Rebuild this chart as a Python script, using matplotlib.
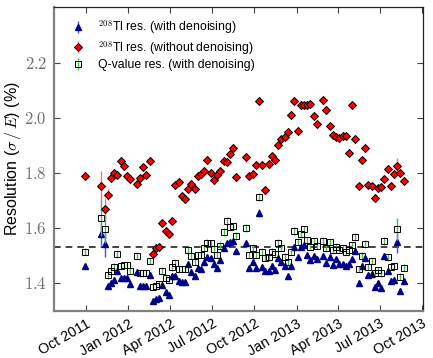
import matplotlib
matplotlib.use("Agg")
import matplotlib.pyplot as plt
import matplotlib.dates as mdates
from matplotlib.ticker import FuncFormatter
import numpy as np

plt.rcParams["font.family"] = ["Liberation Sans", "DejaVu Sans"]
plt.rcParams["mathtext.fontset"] = "cm"

# Weekly calibration epochs
dates = [
    "2011-09-29", "2011-11-03", "2011-11-10", "2011-11-17", "2011-11-24",
    "2011-12-01", "2011-12-08", "2011-12-15", "2011-12-22", "2011-12-29",
    "2012-01-05", "2012-01-19", "2012-01-26", "2012-02-02", "2012-02-09",
    "2012-02-16", "2012-02-23", "2012-03-01", "2012-03-08", "2012-03-15",
    "2012-03-22", "2012-03-29", "2012-04-05", "2012-04-12", "2012-04-19",
    "2012-04-26", "2012-05-03", "2012-05-10", "2012-05-17", "2012-05-24",
    "2012-05-31", "2012-06-07", "2012-06-14", "2012-06-21", "2012-06-28",
    "2012-07-05", "2012-07-12", "2012-07-19", "2012-07-26", "2012-08-02",
    "2012-08-09", "2012-08-16", "2012-08-23", "2012-09-13", "2012-09-20",
    "2012-09-27", "2012-10-04", "2012-10-11", "2012-10-18", "2012-10-25",
    "2012-11-01", "2012-11-08", "2012-11-15", "2012-11-22", "2012-11-29",
    "2012-12-06", "2012-12-13", "2012-12-20", "2012-12-27", "2013-01-03",
    "2013-01-10", "2013-01-17", "2013-01-24", "2013-01-31", "2013-02-07",
    "2013-02-14", "2013-02-28", "2013-03-07", "2013-03-14", "2013-03-21",
    "2013-03-28", "2013-04-04", "2013-04-11", "2013-04-18", "2013-04-25",
    "2013-05-02", "2013-05-09", "2013-05-16", "2013-05-23", "2013-05-30",
    "2013-06-06", "2013-06-13", "2013-06-20", "2013-06-27", "2013-07-04",
    "2013-07-11", "2013-07-18", "2013-07-25", "2013-08-01", "2013-08-08",
    "2013-08-15", "2013-08-22",
]

# 208Tl peak resolution without denoising (%)
tl_raw = [
    1.790, 1.753, 1.670, 1.720, 1.783, 1.801, 1.794, 1.844, 1.824, 1.790,
    1.777, 1.760, 1.783, 1.822, 1.793, 1.845, 1.505, 1.528, 1.532, 1.617,
    1.588, 1.578, 1.625, 1.756, 1.767, 1.715, 1.704, 1.742, 1.760, 1.742,
    1.787, 1.796, 1.808, 1.847, 1.799, 1.773, 1.794, 1.808, 1.845, 1.840,
    1.869, 1.892, 1.784, 1.857, 1.790, 1.795, 1.830, 2.061, 1.827, 1.736,
    1.831, 1.860, 1.847, 1.902, 1.923, 1.931, 1.948, 2.009, 2.063, 1.952,
    2.046, 2.046, 2.046, 2.051, 2.008, 1.977, 2.066, 2.028, 1.970, 1.937,
    1.932, 1.925, 1.935, 1.933, 1.873, 2.045, 1.923, 1.753, 1.846, 1.891,
    1.756, 1.753, 1.710, 1.744, 1.748, 1.778, 1.815, 1.752, 1.796, 1.825,
    1.800, 1.772,
]
tl_raw_err = [
    0.012, 0.055, 0.040, 0.020, 0.012, 0.012, 0.012, 0.015, 0.012, 0.012,
    0.012, 0.012, 0.012, 0.012, 0.012, 0.014, 0.012, 0.012, 0.012, 0.012,
    0.012, 0.012, 0.012, 0.012, 0.012, 0.012, 0.012, 0.012, 0.012, 0.012,
    0.012, 0.012, 0.012, 0.014, 0.012, 0.012, 0.012, 0.012, 0.012, 0.012,
    0.012, 0.012, 0.012, 0.016, 0.012, 0.012, 0.012, 0.016, 0.012, 0.012,
    0.012, 0.012, 0.012, 0.012, 0.012, 0.012, 0.012, 0.014, 0.014, 0.012,
    0.014, 0.014, 0.014, 0.014, 0.014, 0.012, 0.014, 0.014, 0.012, 0.012,
    0.012, 0.012, 0.012, 0.012, 0.012, 0.014, 0.014, 0.012, 0.012, 0.012,
    0.012, 0.012, 0.012, 0.012, 0.012, 0.012, 0.014, 0.012, 0.014, 0.030,
    0.012, 0.012,
]

# 208Tl peak resolution with denoising (%)
tl_dn = [
    1.462, 1.577, 1.541, 1.389, 1.399, 1.411, 1.445, 1.417, 1.419, 1.419,
    1.395, 1.441, 1.389, 1.389, 1.389, 1.429, 1.335, 1.341, 1.347, 1.392,
    1.368, 1.356, 1.427, 1.427, 1.408, 1.403, 1.403, 1.469, 1.441, 1.425,
    1.453, 1.451, 1.475, 1.493, 1.490, 1.469, 1.453, 1.484, 1.528, 1.544,
    1.548, 1.553, 1.516, 1.544, 1.453, 1.477, 1.453, 1.653, 1.459, 1.444,
    1.444, 1.462, 1.447, 1.491, 1.475, 1.463, 1.425, 1.462, 1.532, 1.496,
    1.532, 1.538, 1.500, 1.484, 1.499, 1.487, 1.498, 1.472, 1.496, 1.465,
    1.486, 1.468, 1.468, 1.462, 1.468, 1.487, 1.516, 1.401, 1.462, 1.490,
    1.429, 1.433, 1.387, 1.401, 1.383, 1.499, 1.445, 1.408, 1.411, 1.547,
    1.371, 1.407,
]
tl_dn_err = [
    0.009, 0.040, 0.045, 0.010, 0.009, 0.009, 0.009, 0.010, 0.009, 0.009,
    0.009, 0.009, 0.009, 0.009, 0.009, 0.009, 0.009, 0.009, 0.009, 0.009,
    0.009, 0.009, 0.009, 0.009, 0.009, 0.009, 0.009, 0.009, 0.009, 0.009,
    0.009, 0.009, 0.009, 0.009, 0.009, 0.009, 0.009, 0.009, 0.009, 0.010,
    0.009, 0.009, 0.009, 0.009, 0.009, 0.009, 0.009, 0.015, 0.009, 0.009,
    0.009, 0.009, 0.009, 0.009, 0.009, 0.009, 0.009, 0.009, 0.010, 0.009,
    0.009, 0.009, 0.009, 0.009, 0.009, 0.009, 0.009, 0.009, 0.009, 0.009,
    0.009, 0.009, 0.009, 0.009, 0.009, 0.009, 0.010, 0.009, 0.009, 0.009,
    0.009, 0.009, 0.009, 0.009, 0.009, 0.009, 0.009, 0.009, 0.009, 0.040,
    0.009, 0.009,
]

# Q-value resolution with denoising (%)
qval_dn = [
    1.514, 1.635, 1.596, 1.429, 1.445, 1.459, 1.504, 1.462, 1.465, 1.465,
    1.444, 1.499, 1.435, 1.435, 1.435, 1.480, 1.387, 1.389, 1.395, 1.445,
    1.419, 1.411, 1.457, 1.473, 1.450, 1.451, 1.451, 1.520, 1.499, 1.477,
    1.502, 1.502, 1.528, 1.546, 1.544, 1.524, 1.502, 1.536, 1.584, 1.625,
    1.603, 1.607, 1.571, 1.599, 1.502, 1.528, 1.502, 1.712, 1.514, 1.490,
    1.493, 1.514, 1.504, 1.544, 1.528, 1.496, 1.475, 1.514, 1.589, 1.550,
    1.578, 1.595, 1.555, 1.532, 1.553, 1.535, 1.554, 1.526, 1.548, 1.520,
    1.532, 1.520, 1.526, 1.514, 1.520, 1.538, 1.568, 1.450, 1.499, 1.541,
    1.459, 1.480, 1.435, 1.447, 1.435, 1.553, 1.493, 1.459, 1.462, 1.596,
    1.423, 1.456,
]
qval_dn_err = [
    0.012, 0.065, 0.050, 0.014, 0.012, 0.012, 0.014, 0.012, 0.012, 0.012,
    0.012, 0.012, 0.012, 0.012, 0.012, 0.012, 0.012, 0.012, 0.012, 0.012,
    0.012, 0.012, 0.012, 0.014, 0.012, 0.012, 0.012, 0.014, 0.012, 0.012,
    0.012, 0.012, 0.012, 0.012, 0.012, 0.012, 0.012, 0.012, 0.014, 0.014,
    0.012, 0.012, 0.014, 0.014, 0.012, 0.012, 0.012, 0.016, 0.012, 0.012,
    0.012, 0.012, 0.012, 0.014, 0.012, 0.012, 0.012, 0.012, 0.014, 0.012,
    0.014, 0.012, 0.012, 0.012, 0.012, 0.012, 0.012, 0.012, 0.012, 0.012,
    0.012, 0.012, 0.012, 0.012, 0.012, 0.012, 0.014, 0.012, 0.012, 0.014,
    0.012, 0.012, 0.014, 0.012, 0.012, 0.014, 0.012, 0.012, 0.012, 0.040,
    0.012, 0.012,
]

reference_level = 1.53
ytick_values = [1.4, 1.6, 1.8, 2.0, 2.2]

t = np.array(dates, dtype="datetime64[D]")

fig = plt.figure(figsize=(4.33, 3.58), dpi=100)
ax = fig.add_axes([0.1247, 0.1313, 0.8522, 0.8492])

h_dn = ax.errorbar(t, tl_dn, yerr=tl_dn_err, fmt="^", ms=4.0,
                   mfc="#00008b", mec="#00008b", ecolor="#4a4aff",
                   elinewidth=1.0, capsize=0, zorder=3,
                   label=r"$^{208}$Tl res. (with denoising)")
h_raw = ax.errorbar(t, tl_raw, yerr=tl_raw_err, fmt="D", ms=3.6,
                    mfc="#ff0000", mec="black", mew=0.7, ecolor="#ff7070",
                    elinewidth=1.0, capsize=0, zorder=4,
                    label=r"$^{208}$Tl res. (without denoising)")
h_q = ax.errorbar(t, qval_dn, yerr=qval_dn_err, fmt="s", ms=4.3,
                  mfc="none", mec="black", mew=0.7, ecolor="#4cb84c",
                  elinewidth=1.0, capsize=0, zorder=3.5,
                  label="Q-value res. (with denoising)")

ax.axhline(reference_level, color="#222222", lw=1.2, ls=(0, (4, 3)), zorder=2)

ax.set_xlim(np.datetime64("2011-07-23"), np.datetime64("2013-10-03"))
ax.set_ylim(1.298, 2.403)
ax.set_yticks(ytick_values)
ax.yaxis.set_major_formatter(FuncFormatter(lambda v, p: r"$%.1f$" % v))

ax.xaxis.set_major_locator(mdates.MonthLocator(bymonth=[1, 4, 7, 10]))
ax.xaxis.set_major_formatter(mdates.DateFormatter("%b %Y"))
for lab in ax.get_xticklabels():
    lab.set_rotation(30)
    lab.set_ha("right")
    lab.set_rotation_mode("anchor")
    lab.set_fontsize(10.3)

ax.tick_params(axis="both", direction="in", length=4, width=0.8,
               top=True, right=True, color="#444444")
ax.tick_params(axis="y", labelsize=12, labelcolor="#707070", pad=5)
ax.tick_params(axis="x", pad=4)

for side in ("left", "bottom"):
    ax.spines[side].set_color("#808080")
    ax.spines[side].set_linewidth(1.6)
for side in ("top", "right"):
    ax.spines[side].set_color("#222222")
    ax.spines[side].set_linewidth(0.9)

ax.set_ylabel(r"Resolution ($\sigma\,/\,E$) (%)", fontsize=11.5, labelpad=1)

ax.legend(handles=[h_dn, h_raw, h_q], loc="upper left", frameon=False,
          fontsize=8.8, handlelength=1.0, handletextpad=1.1,
          labelspacing=0.22, borderaxespad=0.5, bbox_to_anchor=(0.02, 1.0))

fig.savefig("out.png", dpi=100)
